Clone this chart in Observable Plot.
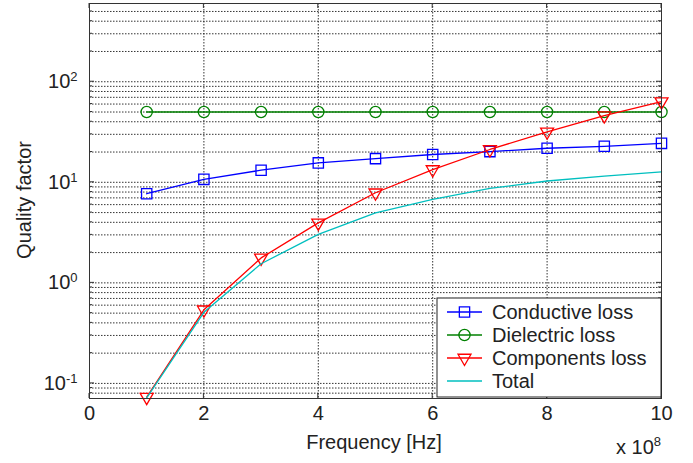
<!DOCTYPE html>
<html><head><meta charset="utf-8">
<script src="https://cdn.jsdelivr.net/npm/d3@7"></script>
<script src="https://cdn.jsdelivr.net/npm/@observablehq/plot@0.6"></script>
<style>
html,body{margin:0;padding:0;background:#fff;}
#chart{position:relative;width:693px;height:463px;}
svg{font-family:"Liberation Sans",Arial,sans-serif;}
</style></head>
<body><div id="chart"></div>
<script>
const freq = [1,2,3,4,5,6,7,8,9,10];
const conductive = [7.7,10.7,13.2,15.6,17.2,18.9,20.2,21.8,22.8,24.4];
const dielectric = [50,50,50,50,50,50,50,50,50,50];
const components = [0.073,0.54,1.77,3.95,7.87,13.4,21.2,31.8,46.1,63.5];
const total = [0.072,0.51,1.55,3.03,4.97,6.76,8.7,10.3,11.5,12.7];
const xTicks = [0,2,4,6,8,10];
const yTicks = [0.1,1,10,100];
const seriesNames = ["Conductive loss","Dielectric loss","Components loss","Total"];
const colors = ["#0000ff","#008000","#ff0000","#00bfbf"];

const FS = 20;
const rows = (ys) => freq.map((f,i)=>({x:f,y:ys[i]}));
const yGrid = [];
for (let d=-2; d<=2; d++) for (let m=1; m<=9; m++) { const v = m*Math.pow(10,d); if (v>0.0708 && v<600) yGrid.push(v); }

const plot = Plot.plot({
  width: 693, height: 463,
  marginLeft: 89, marginRight: 32, marginTop: 3, marginBottom: 65,
  style: {fontFamily: '"Liberation Sans",Arial,sans-serif', fontSize: FS + "px", color: "#222"},
  x: {domain: [0,10]},
  y: {type: "log", domain: [0.0708, 600]},
  marks: [
    Plot.ruleY(yGrid, {stroke: "#111", strokeDasharray: "1.5,1.5", strokeWidth: 1, strokeOpacity: 0.85}),
    Plot.ruleX(xTicks.slice(1,-1), {stroke: "#111", strokeDasharray: "1.5,1.5", strokeWidth: 1, strokeOpacity: 0.85}),
    Plot.axisX(xTicks, {tickSize: 0, tickPadding: 7, fontSize: FS, label: null}),
    Plot.axisY(yTicks, {tickSize: 0, tickPadding: 12, fontSize: FS, label: null, tickFormat: d => String(Math.round(Math.log10(d)))}),
    Plot.line(rows(conductive), {x:"x", y:"y", stroke: colors[0], strokeWidth: 1.3}),
    Plot.dot(rows(conductive), {x:"x", y:"y", stroke: colors[0], symbol: "square", r: 5.8, strokeWidth: 1.3}),
    Plot.line(rows(dielectric), {x:"x", y:"y", stroke: colors[1], strokeWidth: 1.3}),
    Plot.dot(rows(dielectric), {x:"x", y:"y", stroke: colors[1], symbol: "circle", r: 5.6, strokeWidth: 1.3}),
    Plot.line(rows(components), {x:"x", y:"y", stroke: colors[2], strokeWidth: 1.3}),
    Plot.dot(rows(components), {x:"x", y:"y", stroke: colors[2], symbol: "triangle2", r: 6.2, rotate: 180, strokeWidth: 1.3}),
    Plot.line(rows(total), {x:"x", y:"y", stroke: colors[3], strokeWidth: 1.3}),
    Plot.frame({stroke: "#333", strokeWidth: 1})
  ]
});

const svg = d3.select(plot);
const sx = plot.scale("x"), sy = plot.scale("y");
const L = 89, R = 661, T = 3, B = 398;
// inward tick marks
const tg = svg.insert("g", 'g[aria-label="line"]').attr("stroke", "#333").attr("stroke-width", 1);
xTicks.forEach(v => {
  const px = sx.apply(v);
  tg.append("line").attr("x1", px).attr("x2", px).attr("y1", B).attr("y2", B - 5);
  tg.append("line").attr("x1", px).attr("x2", px).attr("y1", T).attr("y2", T + 5);
});
yGrid.forEach(v => {
  const py = sy.apply(v);
  const len = yTicks.includes(+v.toPrecision(6)) ? 5 : 3;
  tg.append("line").attr("x1", L).attr("x2", L + len).attr("y1", py).attr("y2", py);
  tg.append("line").attr("x1", R).attr("x2", R - len).attr("y1", py).attr("y2", py);
});

// superscript exponents on y tick labels
svg.selectAll('g[aria-label="y-axis tick label"] text').each(function(){
  const t = d3.select(this);
  const e = t.text();
  t.text("10");
  t.append("tspan").attr("dy", "-0.55em").style("font-size", "13px").text(e);
});

// axis titles
svg.append("text").attr("x", 374).attr("y", 449).attr("text-anchor","middle")
  .style("font-size",FS+"px").attr("fill","#222").text("Frequency [Hz]");
svg.append("text").attr("transform","translate(31,200) rotate(-90)").attr("text-anchor","middle")
  .style("font-size",FS+"px").attr("fill","#222").text("Quality factor");
const mult = svg.append("text").attr("x", 616).attr("y", 454).attr("text-anchor","start").style("font-size",FS+"px").attr("fill","#222").text("x 10");
mult.append("tspan").attr("dy","-0.6em").style("font-size","13px").text("8");

// legend
const lg = svg.append("g");
const lx = 437, ly = 298, lw = 224, lh = 99;
lg.append("rect").attr("x",lx).attr("y",ly).attr("width",lw).attr("height",lh).attr("fill","#fff").attr("stroke","#222").attr("stroke-width",1);
const symbols = [d3.symbolSquare, d3.symbolCircle, d3.symbolTriangle2, null];
const sizes = [Math.PI*5.8*5.8, Math.PI*5.6*5.6, Math.PI*6.2*6.2, 0];
seriesNames.forEach((name,i)=>{
  const yy = ly + 14 + i*23;
  lg.append("line").attr("x1",447).attr("x2",482).attr("y1",yy).attr("y2",yy).attr("stroke",colors[i]).attr("stroke-width",1.3);
  if (symbols[i]) {
    lg.append("path").attr("d", d3.symbol(symbols[i], sizes[i])()).attr("transform", `translate(464.5,${yy})` + (i===2?" rotate(180)":""))
      .attr("fill","none").attr("stroke",colors[i]).attr("stroke-width",1.3);
  }
  lg.append("text").attr("x",492).attr("y",yy+7).attr("text-anchor","start").style("font-size",FS+"px").attr("fill","#222").text(name);
});

document.getElementById("chart").appendChild(plot);
</script></body></html>
